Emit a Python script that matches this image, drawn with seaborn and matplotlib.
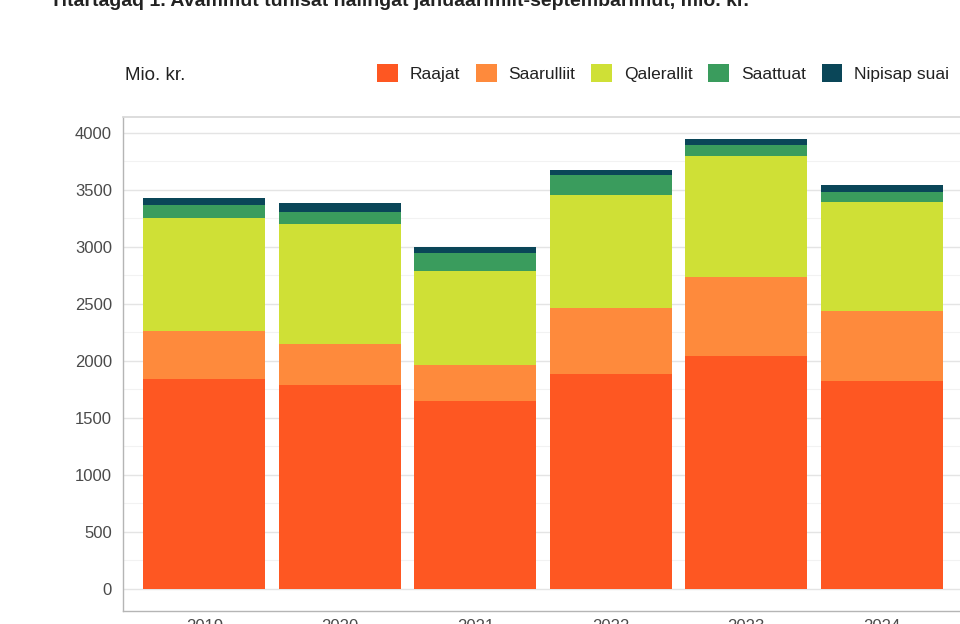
import numpy as np
import pandas as pd
import matplotlib
matplotlib.use("Agg")
import matplotlib.pyplot as plt
import seaborn as sns
from matplotlib.patches import Patch
from matplotlib.ticker import MultipleLocator

years = ["2019", "2020", "2021", "2022", "2023", "2024"]
series_names = ["Raajat", "Saarulliit", "Qalerallit", "Saattuat", "Nipisap suai"]
raajat = [1846, 1787, 1649, 1886, 2048, 1824]
saarulliit = [417, 363, 320, 578, 688, 614]
qalerallit = [991, 1054, 820, 989, 1059, 959]
saattuat = [114, 106, 161, 181, 99, 82]
nipisap = [62, 80, 47, 38, 50, 62]
colors = ["#FE5722", "#FE8A3C", "#CFE036", "#3A9C5D", "#0A4658"]

title = "Titartagaq 1. Avammut tunisat nalingat januaarimiit-septembarimut, mio. kr."
unit_label = "Mio. kr."

sns.set_theme(style="white")
plt.rcParams["font.family"] = ["Liberation Sans", "DejaVu Sans"]

values = np.array([raajat, saarulliit, qalerallit, saattuat, nipisap], dtype=float)
cum = np.cumsum(values, axis=0)

fig = plt.figure(figsize=(9.6, 6.24), dpi=100)
ax = fig.add_axes([123 / 960, 1 - 611 / 624, (963 - 123) / 960, (611 - 117) / 624])

# draw from top of stack downward so lower segments overlay
for i in range(len(series_names) - 1, -1, -1):
    df = pd.DataFrame({"year": years, "value": cum[i]})
    sns.barplot(data=df, x="year", y="value", color=colors[i], width=0.9,
                saturation=1, linewidth=0, ax=ax, order=years)

ax.set_xlim(-0.6, 5.6)
ax.set_ylim(-193, 4140)
ax.yaxis.set_major_locator(MultipleLocator(500))
ax.yaxis.set_minor_locator(MultipleLocator(250))
ax.grid(axis="y", which="major", color="#e4e4e4", linewidth=1.0)
ax.grid(axis="y", which="minor", color="#f2f2f2", linewidth=0.8)
ax.grid(axis="x", visible=False)
ax.set_axisbelow(True)
ax.set_xlabel("")
ax.set_ylabel("")
ax.tick_params(axis="y", length=0, pad=8, labelsize=12, labelcolor="#4a4a4a")
ax.tick_params(axis="x", length=0, pad=6, labelsize=12, labelcolor="#4a4a4a")
for side in ["left", "bottom"]:
    ax.spines[side].set_color("#b5b5b5")
    ax.spines[side].set_linewidth(1.0)
ax.spines["top"].set_color("#d8d8d8")
ax.spines["right"].set_visible(False)

fig.text(125 / 960, 1 - 76 / 624, unit_label, fontsize=13.5, color="#222222",
         ha="left", va="center")
fig.text(50 / 960, 1 - 6 / 624, title, fontsize=14, fontweight="bold",
         color="#222222", ha="left", va="baseline")

handles = [Patch(facecolor=c, edgecolor="none") for c in colors]
fig.legend(handles, series_names, loc="center left",
           bbox_to_anchor=(377 / 960, 1 - 73 / 624), ncol=5, frameon=False,
           fontsize=12.5, handlelength=1.2, handleheight=1.26, handletextpad=0.69,
           columnspacing=0.9, borderaxespad=0, borderpad=0,
           labelcolor="#222222")

fig.savefig("out.png", dpi=100)
